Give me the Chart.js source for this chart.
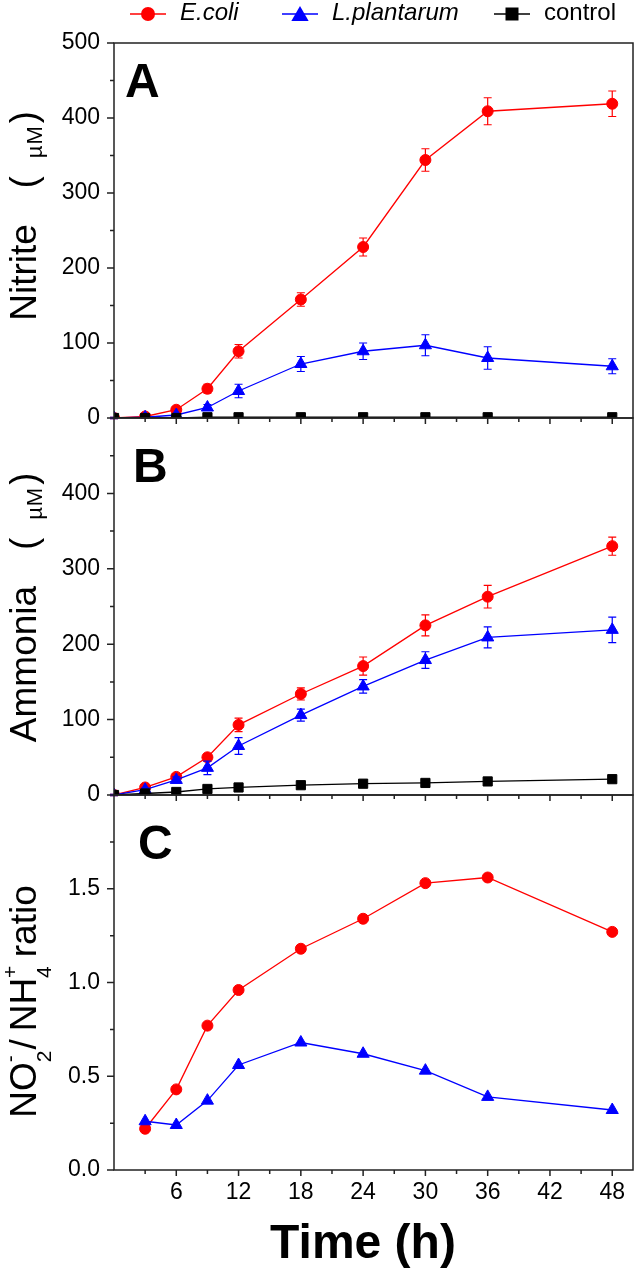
<!DOCTYPE html>
<html>
<head>
<meta charset="utf-8">
<script src="https://cdn.jsdelivr.net/npm/chart.js@4.4.1/dist/chart.umd.min.js"></script>
<style>
  html, body { margin: 0; padding: 0; background: #fff; }
  #wrap { position: relative; width: 634px; height: 1275px; overflow: hidden; }
  canvas { position: absolute; left: 0; }
</style>
</head>
<body>
<div id="wrap">
  <canvas id="panelA" width="634" height="445" style="top:0px"></canvas>
  <canvas id="panelB" width="634" height="425" style="top:400px"></canvas>
  <canvas id="panelC" width="634" height="500" style="top:775px"></canvas>
</div>
<script>
'use strict'
// sampling times (h) and axis ticks
var hours = [0, 3, 6, 9, 12, 18, 24, 30, 36, 48];
var timeTicks = [6, 12, 18, 24, 30, 36, 42, 48];
var seriesNames = ['E.coli', 'L.plantarum', 'control'];

// A - nitrite (uM)
var nitriteEcoli    = [0, 2, 11, 39, 89, 158, 228, 344, 409, 419];
var nitriteEcoliErr = [1, 2, 4, 6, 9, 9, 12, 15, 18, 17];
var nitriteLp       = [0, 1, 4, 14, 36, 72, 89, 97, 80, 69];
var nitriteLpErr    = [1, 1, 2, 4, 9, 10, 11, 14, 15, 10];
var nitriteCtrl     = [0, 0, 0, 1, 1, 1, 1, 1, 1, 1];
var nitriteTicks    = [0, 100, 200, 300, 400, 500];

// B - ammonia (uM)
var ammoniaEcoli    = [0, 10, 24, 50, 93, 134, 171, 225, 263, 330];
var ammoniaEcoliErr = [1, 3, 4, 5, 9, 8, 12, 14, 15, 12];
var ammoniaLp       = [0, 7, 20, 36, 65, 106, 144, 179, 209, 219];
var ammoniaLpErr    = [1, 2, 4, 9, 11, 8, 9, 11, 14, 17];
var ammoniaCtrl     = [0, 2, 4, 8, 10, 13, 15, 16, 18, 21];
var ammoniaCtrlErr  = [0, 1, 1, 2, 2, 2, 2, 3, 4, 3];
var ammoniaTicks    = [0, 100, 200, 300, 400];

// C - NO2-/NH4+ ratio
var ratioEcoli = [null, 0.22, 0.43, 0.77, 0.96, 1.18, 1.34, 1.53, 1.56, 1.27];
var ratioLp    = [null, 0.26, 0.24, 0.37, 0.56, 0.68, 0.62, 0.53, 0.39, 0.32];
var ratioTicks = [0, 0.5, 1.0, 1.5];

var FONT = '"Liberation Sans", Arial, Helvetica, sans-serif';
var RED = '#ff0000', BLUE = '#0000ff', BLACK = '#000000';
var decoById = {};

function pts(values) {
  return hours.map(function (h, i) { return { x: h, y: values[i] }; });
}

function series(label, values, errs, color, style, radius, order) {
  return {
    label: label,
    data: pts(values),
    errors: errs || [],
    borderColor: color,
    backgroundColor: color,
    borderWidth: 1.3,
    pointStyle: style,
    pointRadius: radius,
    pointBorderWidth: 1,
    tension: 0,
    order: order
  };
}

// text drawn rotated (reads bottom to top), parts may be shifted as sub/superscripts
function drawVerticalText(ctx, parts, xBase, yCenter) {
  var total = 0;
  var widths = [];
  parts.forEach(function (p, i) {
    ctx.font = p.size + 'px ' + FONT;
    widths[i] = ctx.measureText(p.t).width;
    total += (p.pre || 0) + (p.noAdvance ? 0 : widths[i]);
  });
  ctx.save();
  ctx.translate(xBase, yCenter);
  ctx.rotate(-Math.PI / 2);
  ctx.fillStyle = '#000';
  ctx.textBaseline = 'alphabetic';
  ctx.textAlign = 'left';
  var x = -total / 2;
  parts.forEach(function (p, i) {
    x += p.pre || 0;
    ctx.font = p.size + 'px ' + FONT;
    ctx.fillText(p.t, x, p.shift || 0);
    if (!p.noAdvance) x += widths[i];
  });
  ctx.restore();
}

function drawMarker(ctx, style, x, y, r) {
  ctx.beginPath();
  if (style === 'circle') {
    ctx.arc(x, y, r, 0, Math.PI * 2);
  } else if (style === 'triangle') {
    ctx.moveTo(x, y - r);
    ctx.lineTo(x + r * 0.866, y + r * 0.5);
    ctx.lineTo(x - r * 0.866, y + r * 0.5);
    ctx.closePath();
  } else {
    ctx.rect(x - r, y - r, 2 * r, 2 * r);
  }
  ctx.fill();
}

var panelDeco = {
  id: 'panelDeco',
  beforeDatasetDraw: function (chart, args) {
    var ds = chart.data.datasets[args.index];
    if (!ds.errors || !ds.errors.length) return;
    var ctx = chart.ctx, xs = chart.scales.x, ys = chart.scales.y;
    ctx.save();
    ctx.strokeStyle = ds.borderColor;
    ctx.lineWidth = 1.2;
    ds.data.forEach(function (p, i) {
      var e = ds.errors[i];
      if (p.y === null || !e) return;
      var px = xs.getPixelForValue(p.x);
      var y1 = ys.getPixelForValue(p.y - e), y2 = ys.getPixelForValue(p.y + e);
      ctx.beginPath();
      ctx.moveTo(px, y1); ctx.lineTo(px, y2);
      ctx.moveTo(px - 4, y1); ctx.lineTo(px + 4, y1);
      ctx.moveTo(px - 4, y2); ctx.lineTo(px + 4, y2);
      ctx.stroke();
    });
    ctx.restore();
  },
  afterDraw: function (chart) {
    var o = decoById[chart.canvas.id];
    if (!o) return;
    var ctx = chart.ctx, a = chart.chartArea;
    var xs = chart.scales.x, ys = chart.scales.y;
    ctx.save();
    // frame
    ctx.strokeStyle = '#222';
    ctx.lineWidth = 1.5;
    ctx.strokeRect(a.left, a.top, a.right - a.left, a.bottom - a.top);
    // left ticks, major + minor
    ctx.beginPath();
    var yt = o.yTicks, step = yt[1] - yt[0];
    yt.forEach(function (v) {
      var py = ys.getPixelForValue(v);
      ctx.moveTo(a.left - 7, py); ctx.lineTo(a.left, py);
      var mv = v + step / 2;
      if (mv < ys.max) {
        var my = ys.getPixelForValue(mv);
        ctx.moveTo(a.left - 4, my); ctx.lineTo(a.left, my);
      }
    });
    // bottom ticks
    timeTicks.forEach(function (v) {
      var px = xs.getPixelForValue(v);
      ctx.moveTo(px, a.bottom); ctx.lineTo(px, a.bottom + 6);
      var mx = xs.getPixelForValue(v - 3);
      ctx.moveTo(mx, a.bottom); ctx.lineTo(mx, a.bottom + 4);
    });
    ctx.stroke();

    // panel letter
    ctx.fillStyle = '#000';
    ctx.font = 'bold 48px ' + FONT;
    ctx.textBaseline = 'alphabetic';
    ctx.textAlign = 'left';
    ctx.fillText(o.letter, o.letterX, o.letterY);

    // y title
    drawVerticalText(ctx, o.title, 36, o.titleY);

    if (o.xTitle) {
      ctx.fillStyle = '#000';
      ctx.font = 'bold 48px ' + FONT;
      ctx.textAlign = 'center';
      ctx.textBaseline = 'middle';
      ctx.fillText(o.xTitle, 363, o.xTitleY);
    }

    if (o.legend) {
      var items = [
        { name: seriesNames[0], color: RED, style: 'circle', x0: 130, r: 7, italic: true },
        { name: seriesNames[1], color: BLUE, style: 'triangle', x0: 282, r: 10, italic: true },
        { name: seriesNames[2], color: BLACK, style: 'rect', x0: 494, r: 6.5, italic: false }
      ];
      items.forEach(function (it) {
        ctx.strokeStyle = it.color;
        ctx.fillStyle = it.color;
        ctx.lineWidth = 1.5;
        ctx.beginPath();
        ctx.moveTo(it.x0, 14); ctx.lineTo(it.x0 + 36, 14);
        ctx.stroke();
        drawMarker(ctx, it.style, it.x0 + 18, it.style === 'triangle' ? 16 : 14, it.r);
        ctx.fillStyle = '#000';
        ctx.font = (it.italic ? 'italic ' : '') + '24px ' + FONT;
        ctx.textAlign = 'left';
        ctx.textBaseline = 'middle';
        ctx.fillText(it.name, it.x0 + 50, 13);
      });
    }
    ctx.restore();
  }
};

function umTitle(word, size) {
  return [
    { t: word, size: size },
    { t: '(', size: 36, pre: 36 },
    { t: '\u00b5', size: 22, pre: 18, shift: 6 },
    { t: 'M', size: 22, pre: 1, shift: 6 },
    { t: ')', size: 36, pre: 3 }
  ];
}

function noPad(s) {
  s.paddingLeft = 0;
  s.paddingRight = 0;
  s.paddingTop = 0;
  s.paddingBottom = 0;
}

function makePanel(id, cfg) {
  decoById[id] = cfg.deco;
  return new Chart(document.getElementById(id), {
    type: 'line',
    data: { datasets: cfg.datasets },
    options: {
      responsive: false,
      animation: false,
      devicePixelRatio: 1,
      layout: {
        autoPadding: false,
        padding: { left: 0, right: 1, top: cfg.padTop, bottom: 0 }
      },
      plugins: {
        legend: { display: false },
        tooltip: { enabled: false }
      },
      scales: {
        x: {
          type: 'linear',
          min: 0,
          max: 50,
          afterBuildTicks: function (s) { s.ticks = timeTicks.map(function (v) { return { value: v }; }); },
          afterFit: function (s) { s.height = cfg.xHeight; noPad(s); },
          grid: { display: false, drawTicks: false },
          border: { display: false },
          ticks: {
            display: cfg.xLabels,
            color: '#000',
            padding: 9,
            maxRotation: 0,
            autoSkip: false,
            font: { family: FONT, size: 23 }
          }
        },
        y: {
          min: cfg.yMin,
          max: cfg.yMax,
          afterBuildTicks: function (s) { s.ticks = cfg.deco.yTicks.map(function (v) { return { value: v }; }); },
          afterFit: function (s) { s.width = 114; noPad(s); },
          grid: { display: false, drawTicks: false },
          border: { display: false },
          ticks: {
            color: '#000',
            padding: 14,
            autoSkip: false,
            font: { family: FONT, size: 23 },
            callback: cfg.yFormat
          }
        }
      }
    },
    plugins: [panelDeco]
  });
}

makePanel('panelA', {
  padTop: 43, xHeight: 27, xLabels: false, yMin: 0, yMax: 500,
  yFormat: function (v) { return String(v); },
  datasets: [
    series(seriesNames[0], nitriteEcoli, nitriteEcoliErr, RED, 'circle', 5.5, 3),
    series(seriesNames[1], nitriteLp, nitriteLpErr, BLUE, 'triangle', 7, 2),
    series(seriesNames[2], nitriteCtrl, null, BLACK, 'rect', 6.5, 1)
  ],
  deco: { yTicks: nitriteTicks, letter: 'A', letterX: 125, letterY: 97,
          title: umTitle('Nitrite', 37), titleY: 216, legend: true }
});

makePanel('panelB', {
  padTop: 18, xHeight: 30, xLabels: false, yMin: 0, yMax: 500,
  yFormat: function (v) { return String(v); },
  datasets: [
    series(seriesNames[0], ammoniaEcoli, ammoniaEcoliErr, RED, 'circle', 5.5, 3),
    series(seriesNames[1], ammoniaLp, ammoniaLpErr, BLUE, 'triangle', 7, 2),
    series(seriesNames[2], ammoniaCtrl, ammoniaCtrlErr, BLACK, 'rect', 6.5, 1)
  ],
  deco: { yTicks: ammoniaTicks, letter: 'B', letterX: 133, letterY: 82,
          title: umTitle('Ammonia', 37), titleY: 207.5 }
});

makePanel('panelC', {
  padTop: 20, xHeight: 105, xLabels: true, yMin: 0, yMax: 2,
  yFormat: function (v) { return v.toFixed(1); },
  datasets: [
    series(seriesNames[0], ratioEcoli, null, RED, 'circle', 5.5, 3),
    series(seriesNames[1], ratioLp, null, BLUE, 'triangle', 7, 2)
  ],
  deco: { yTicks: ratioTicks, letter: 'C', letterX: 138, letterY: 84,
          title: [
            { t: 'NO', size: 37 },
            { t: '-', size: 21, shift: -19, noAdvance: true },
            { t: '2', size: 21, shift: 15 },
            { t: '/', size: 37, pre: 1 },
            { t: 'NH', size: 37, pre: 8 },
            { t: '+', size: 21, shift: -19, noAdvance: true },
            { t: '4', size: 21, shift: 15 },
            { t: 'ratio', size: 37, pre: 9 }
          ],
          titleY: 226.5, xTitle: 'Time (h)', xTitleY: 470 }
});
</script>
</body>
</html>
